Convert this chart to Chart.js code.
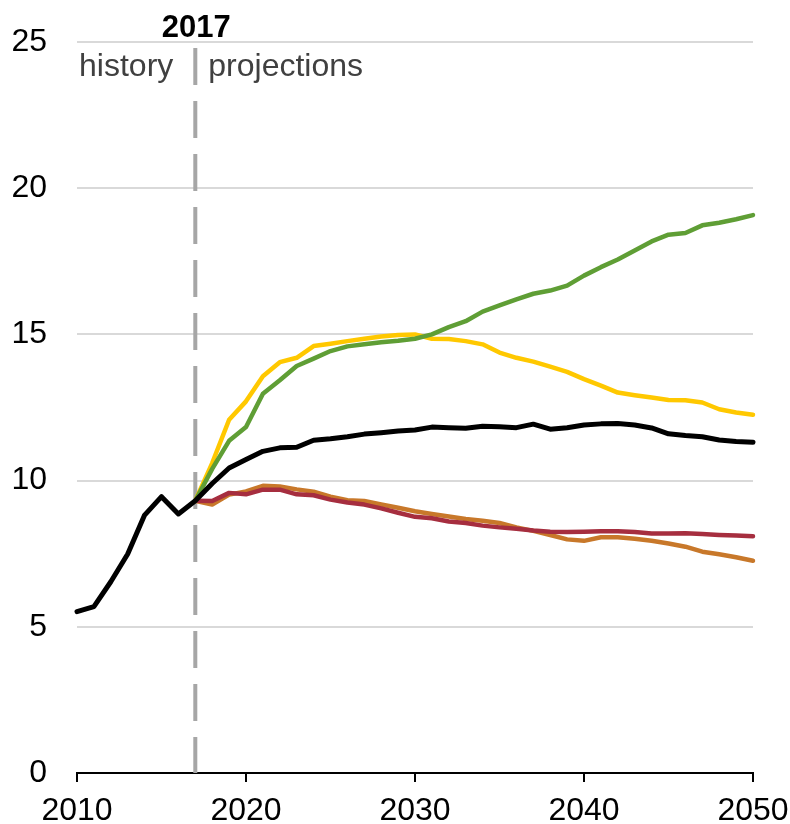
<!DOCTYPE html>
<html><head><meta charset="utf-8">
<script src="https://cdn.jsdelivr.net/npm/chart.js@4"></script>
<style>html,body{margin:0;padding:0;background:#fff}#wrap{position:relative;width:790px;height:824px}</style>
</head><body><div id="wrap"><canvas id="c"></canvas></div>
<script>
const years=[2010,2011,2012,2013,2014,2015,2016,2017,2018,2019,2020,2021,2022,2023,2024,2025,2026,2027,2028,2029,2030,2031,2032,2033,2034,2035,2036,2037,2038,2039,2040,2041,2042,2043,2044,2045,2046,2047,2048,2049,2050];
const projYears=years.slice(7);
const referenceCase=[5.52,5.69,6.54,7.49,8.82,9.45,8.86,9.31,9.9,10.43,10.72,11.0,11.12,11.14,11.38,11.43,11.5,11.59,11.64,11.7,11.73,11.83,11.81,11.79,11.86,11.84,11.81,11.93,11.76,11.81,11.9,11.94,11.95,11.9,11.8,11.6,11.54,11.5,11.39,11.34,11.31];
const greenCase=[9.31,10.4,11.36,11.83,12.97,13.43,13.92,14.17,14.43,14.59,14.66,14.73,14.78,14.85,15.0,15.25,15.45,15.78,15.99,16.2,16.39,16.5,16.67,17.01,17.3,17.56,17.87,18.18,18.41,18.47,18.73,18.82,18.94,19.08];
const yellowCase=[9.31,10.6,12.08,12.71,13.57,14.05,14.2,14.6,14.68,14.77,14.85,14.93,14.98,15.0,14.85,14.84,14.77,14.66,14.38,14.2,14.07,13.9,13.72,13.47,13.25,13.01,12.92,12.84,12.76,12.75,12.67,12.44,12.33,12.25];
const redCase=[9.31,9.3,9.58,9.53,9.69,9.69,9.53,9.5,9.35,9.25,9.18,9.05,8.9,8.76,8.71,8.6,8.55,8.46,8.4,8.35,8.29,8.25,8.24,8.25,8.27,8.27,8.24,8.19,8.19,8.2,8.17,8.14,8.12,8.1];
const orangeCase=[9.31,9.18,9.52,9.63,9.82,9.8,9.7,9.62,9.45,9.33,9.3,9.18,9.07,8.95,8.86,8.77,8.69,8.63,8.55,8.4,8.28,8.14,7.99,7.94,8.06,8.06,8.01,7.94,7.85,7.74,7.57,7.48,7.38,7.26];
const xTicks=[2010,2020,2030,2040,2050];
const yRange=[0,25];
const dividerYear=2017;
const dividerLabel='2017';
const leftLabel='history';
const rightLabel='projections';

const FONT='"Liberation Sans", Arial, sans-serif';
function pts(xs,ys){return xs.map((x,i)=>({x:x,y:ys[i]}));}
function lineDs(data,color,width,order){
  return {data:data,borderColor:color,backgroundColor:color,borderWidth:width,pointRadius:0,pointHoverRadius:0,
    tension:0,borderJoinStyle:'round',borderCapStyle:'round',fill:false,order:order,clip:false};
}
const dividerDs=Object.assign(lineDs([{x:dividerYear,y:yRange[1]},{x:dividerYear,y:yRange[0]}],'#a6a6a6',4,10),
  {borderDash:[37,16],borderDashOffset:-6,borderCapStyle:'butt'});

const textPlugin={id:'texts',afterDraw(chart){
  const ctx=chart.ctx, xs=chart.scales.x;
  const px=xs.getPixelForValue(dividerYear);
  ctx.save();
  ctx.textBaseline='alphabetic';
  ctx.fillStyle='#000';
  ctx.font='bold 31px '+FONT;
  ctx.textAlign='center';
  ctx.fillText(dividerLabel,px+1,37);
  ctx.font='32px '+FONT;
  ctx.fillStyle='#404040';
  ctx.textAlign='right';
  ctx.fillText(leftLabel,px-22,76);
  ctx.textAlign='left';
  ctx.fillText(rightLabel,px+13,76);
  ctx.restore();
}};
function zeroPad(s){s.paddingTop=0;s.paddingBottom=0;s.paddingLeft=0;s.paddingRight=0;}

new Chart(document.getElementById('c'),{
  type:'line',
  data:{datasets:[
    dividerDs,
    lineDs(pts(projYears,orangeCase),'#c8782a',4.5,5),
    lineDs(pts(projYears,redCase),'#a62e3f',4.5,4),
    lineDs(pts(projYears,yellowCase),'#ffc800',4.5,3),
    lineDs(pts(projYears,greenCase),'#5f9e35',4.5,2),
    lineDs(pts(years,referenceCase),'#000000',5,1)
  ]},
  options:{
    responsive:true,maintainAspectRatio:false,animation:false,devicePixelRatio:1,
    layout:{padding:{top:42,right:37,bottom:0,left:0}},
    plugins:{legend:{display:false},tooltip:{enabled:false}},
    events:[],
    scales:{
      x:{type:'linear',min:years[0],max:years[years.length-1],
        afterBuildTicks:s=>{s.ticks=xTicks.map(v=>({value:v}));},
        grid:{drawOnChartArea:false,drawTicks:true,tickLength:9,color:'#000',lineWidth:2},
        border:{display:true,color:'#000',width:2},
        ticks:{font:{family:FONT,size:32,lineHeight:1},color:'#000',padding:13,maxRotation:0,autoSkip:false,callback:v=>String(v)},
        afterFit:s=>{s.height=51;zeroPad(s);}
      },
      y:{min:yRange[0],max:yRange[1],
        ticks:{stepSize:5,font:{family:FONT,size:32},color:'#000',padding:30},
        grid:{drawTicks:false,lineWidth:2,color:c=>c.tick&&c.tick.value===0?'rgba(0,0,0,0)':'#d9d9d9'},
        border:{display:false},
        afterFit:s=>{s.width=77;zeroPad(s);}
      }
    }
  },
  plugins:[textPlugin]
});
</script>
</body></html>
